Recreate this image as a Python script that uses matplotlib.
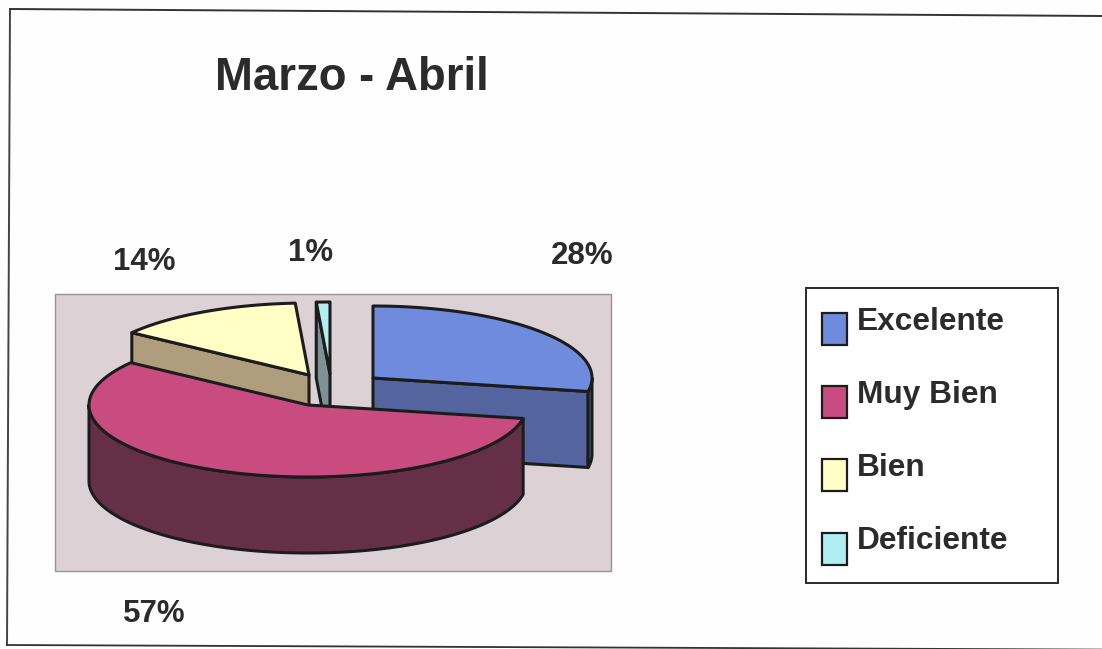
import numpy as np
import matplotlib
matplotlib.use("Agg")
import matplotlib.pyplot as plt
from matplotlib.patches import Polygon, Rectangle

plt.rcParams['font.family'] = ['Liberation Sans', 'DejaVu Sans']

title = "Marzo - Abril"
categories = ["Excelente", "Muy Bien", "Bien", "Deficiente"]
values = [28, 57, 14, 1]
labels = ["28%", "57%", "14%", "1%"]
top_colors = ["#6f8bdd", "#c84c80", "#ffffc6", "#b0eef2"]
side_colors = ["#53649f", "#642f47", "#b09d7e", "#7e9296"]

# layout in pixels
W, H = 1102, 649
RX, RY, DEPTH = 219, 72, 76
apexes = [(373, 378), (308, 405), (309, 375), (330, 374)]
label_pos = [(582, 256), (154, 614), (144, 262), (311, 253)]
legend_y = [329, 402, 475, 549]
legend_text_y = [322, 395, 468, 541]
INK = "#1c1c1c"
TXT = "#2b2b2b"

fig = plt.figure(figsize=(W / 100, H / 100), dpi=100, facecolor="#fefefe")
ax = fig.add_axes([0, 0, 1, 1])
ax.set_xlim(0, W)
ax.set_ylim(H, 0)
ax.axis("off")

# scanned outer frame
ax.plot([10, 7], [9, 645], color="#444444", lw=1.4)
ax.plot([10, 1102], [9, 16], color="#333333", lw=1.4)
ax.plot([7, 1102], [645, 649.6], color="#333333", lw=1.3)

# plot area
ax.add_patch(Rectangle((55, 294), 556, 277, fc="#dcd2d6", ec="#9a9296", lw=1.0))


def rim(center, a):
    a = np.radians(a)
    return center[0] + RX * np.sin(a), center[1] - RY * np.cos(a)


def poly(x, y, fc, z):
    ax.add_patch(Polygon(np.column_stack([x, y]), closed=True, fc=fc, ec=INK,
                         lw=2.2, joinstyle="round", zorder=z))


def cut_face(c, a, fc, z):
    rx, ry = rim(c, a)
    poly([c[0], rx, rx, c[0]], [c[1], ry, ry + DEPTH, c[1] + DEPTH], fc, z)


fracs = np.array(values) / sum(values)
edges = np.concatenate([[0], np.cumsum(fracs) * 360])
# back wedges first, the big front wedge last
order = [0, 3, 2, 1]
for z, i in enumerate(order):
    a0, a1 = edges[i], edges[i + 1]
    c = apexes[i]
    base = 3 + z * 3
    if 0 < a1 < 180:
        cut_face(c, a1, side_colors[i], base)
    if 180 < a0 < 360:
        cut_face(c, a0, side_colors[i], base)
    lo, hi = max(a0, 90), min(a1, 270)
    if hi > lo:
        t = np.linspace(lo, hi, 120)
        rx, ry = rim(c, t)
        poly(np.r_[rx, rx[::-1]], np.r_[ry, (ry + DEPTH)[::-1]], side_colors[i], base + 1)
    t = np.linspace(a0, a1, 160)
    rx, ry = rim(c, t)
    poly(np.r_[c[0], rx], np.r_[c[1], ry], top_colors[i], base + 2)

for lab, (x, y) in zip(labels, label_pos):
    ax.text(x, y, lab, fontsize=22.5, fontweight="bold", color=TXT,
            ha="center", va="center")

ax.text(351.5, 78, title, fontsize=32.8, fontweight="bold", color=TXT,
        ha="center", va="center")

# legend
ax.add_patch(Rectangle((806, 288), 252, 295, fc="#ffffff", ec="#2a2a2a", lw=1.4))
for name, col, sy, ty in zip(categories, top_colors, legend_y, legend_text_y):
    ax.add_patch(Rectangle((822, sy - 16), 25, 32, fc=col, ec=INK, lw=1.6, zorder=3))
    ax.text(857, ty, name, fontsize=22.8, fontweight="bold", color=TXT,
            ha="left", va="center", zorder=3)

fig.savefig("out.png", dpi=100, facecolor=fig.get_facecolor())
